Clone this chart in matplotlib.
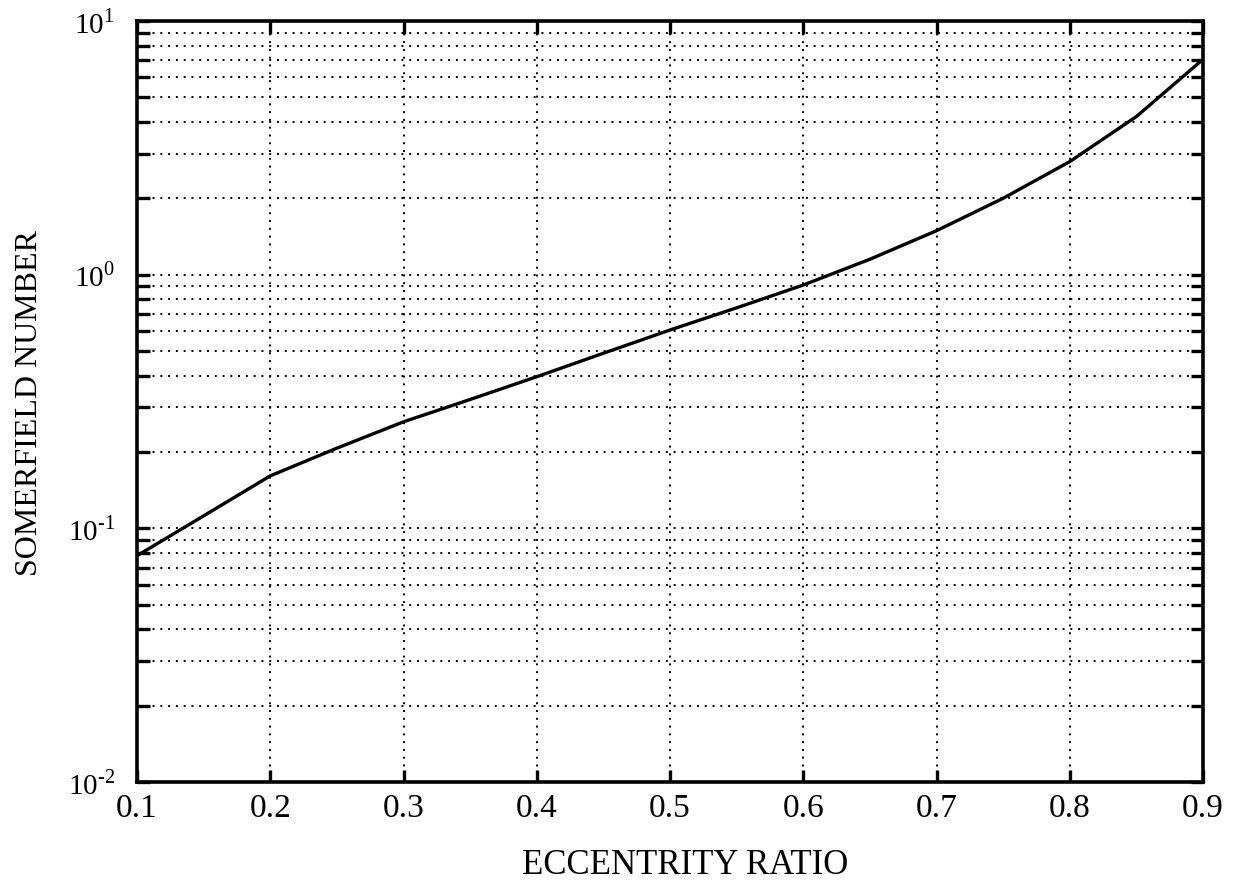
import numpy as np
from matplotlib import pyplot as plt
from matplotlib.ticker import LogLocator, FixedLocator, NullFormatter

plt.rcParams['font.family'] = ['Liberation Serif', 'DejaVu Serif']
plt.rcParams['mathtext.fontset'] = 'custom'
plt.rcParams['mathtext.rm'] = 'Liberation Serif'

# eccentricity ratio vs Sommerfeld number
ecc = [0.1, 0.15, 0.2, 0.25, 0.3, 0.35, 0.4, 0.45, 0.5,
       0.55, 0.6, 0.65, 0.7, 0.75, 0.8, 0.85, 0.9]
somm = [0.078, 0.112, 0.161, 0.207, 0.263, 0.322, 0.396, 0.49, 0.605,
        0.74, 0.91, 1.15, 1.49, 2.0, 2.79, 4.2, 7.06]

xticks = [0.1, 0.2, 0.3, 0.4, 0.5, 0.6, 0.7, 0.8, 0.9]
xlabels = ['0.1', '0.2', '0.3', '0.4', '0.5', '0.6', '0.7', '0.8', '0.9']
yticks = [1e-2, 1e-1, 1e0, 1e1]
ylabels = [r'$10^{\text{-}2}$', r'$10^{\text{-}1}$', '$10^{0}$', '$10^{1}$']

fig = plt.figure(figsize=(12.41, 8.92), dpi=100)
ax = fig.add_axes([0.1104, 0.1233, 0.859, 0.8532])

ax.plot(ecc, somm, color='black', linewidth=2.4)

ax.set_yscale('log')
ax.set_xlim(0.1, 0.9)
ax.set_ylim(1e-2, 1e1)

ax.xaxis.set_major_locator(FixedLocator(xticks))
ax.set_xticklabels(xlabels)
ax.yaxis.set_major_locator(FixedLocator(yticks))
ax.set_yticklabels(ylabels)
ax.yaxis.set_minor_locator(LogLocator(base=10, subs=np.arange(2, 10)))
ax.yaxis.set_minor_formatter(NullFormatter())

dot = (0, (1, 3))
ax.grid(True, which='major', axis='x', color='black', linestyle=dot, linewidth=1.4)
ax.grid(True, which='both', axis='y', color='black', linestyle=dot, linewidth=1.4)

ax.tick_params(axis='both', which='both', direction='in', top=True, right=True,
               width=2.4, color='black')
ax.tick_params(axis='both', which='major', length=9)
ax.tick_params(axis='x', which='major', labelsize=24, pad=8)
ax.tick_params(axis='y', which='major', labelsize=21, pad=16)
ax.tick_params(axis='y', which='minor', length=9)

for sp in ax.spines.values():
    sp.set_linewidth(2.6)

fig.text(0.552, 0.03, 'ECCENTRITY RATIO', ha='center', va='center', fontsize=25)
fig.text(0.024, 0.548, 'SOMERFIELD NUMBER', ha='center', va='center',
         rotation=90, fontsize=23)

fig.savefig('out.png', dpi=100)
